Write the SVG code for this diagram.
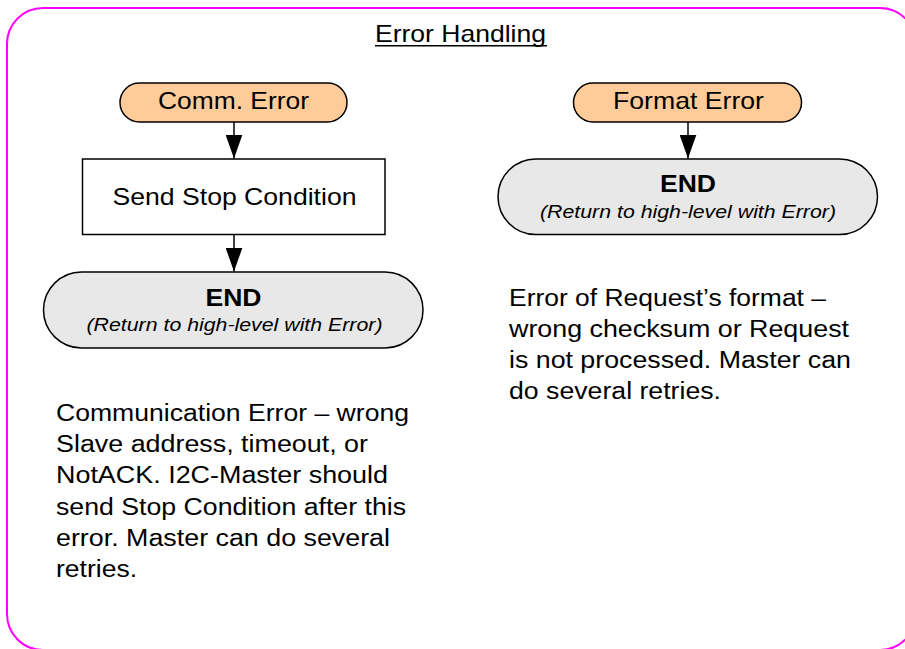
<svg xmlns="http://www.w3.org/2000/svg" width="905" height="649" viewBox="0 0 905 649">
  <defs>
    <marker id="arrow" markerUnits="userSpaceOnUse" markerWidth="24" markerHeight="17" refX="24" refY="8.5" orient="auto" viewBox="0 0 24 17">
      <path d="M0,0 L24,8.5 L0,17 Z" fill="#000"/>
    </marker>
    <style>
      text { font-family: "Liberation Sans", Arial, sans-serif; fill: #000; }
      .node { font-size: 24px; }
      .end { font-size: 24px; font-weight: bold; }
      .ret { font-size: 18.5px; font-style: italic; }
      .para { font-size: 23px; }
      .start { fill: #FFCC99; stroke: #000; stroke-width: 1.5; }
      .term { fill: #E8E8E8; stroke: #000; stroke-width: 1.5; }
      .proc { fill: #FFFFFF; stroke: #000; stroke-width: 1.5; }
      .conn { stroke: #000; stroke-width: 1.5; fill: none; marker-end: url(#arrow); }
    </style>
  </defs>
  <rect width="905" height="649" fill="#FFFFFF"/>
  <rect id="frame" x="7" y="8" width="909" height="642" rx="36" ry="36" fill="none" stroke="#FF00FF" stroke-width="2"/>

  <g id="title">
    <text x="375" y="41.7" font-size="24" textLength="171" lengthAdjust="spacingAndGlyphs">Error Handling</text>
    <line x1="375" y1="45.8" x2="547" y2="45.8" stroke="#000" stroke-width="1.5"/>
  </g>

  <g id="connectors">
    <line class="conn" x1="234" y1="122" x2="234" y2="158.5"/>
    <line class="conn" x1="234" y1="234" x2="234" y2="271.5"/>
    <line class="conn" x1="688" y1="122" x2="688" y2="158.5"/>
  </g>

  <g id="comm-error">
    <rect class="start" x="120" y="83" width="227" height="39" rx="19.5" ry="19.5"/>
    <text class="node" x="158" y="109.3" textLength="151" lengthAdjust="spacingAndGlyphs">Comm. Error</text>
  </g>

  <g id="send-stop">
    <rect class="proc" x="82.5" y="159" width="302.5" height="75.5"/>
    <text class="node" x="112.5" y="205" font-size="24.5" textLength="244" lengthAdjust="spacingAndGlyphs">Send Stop Condition</text>
  </g>

  <g id="end-left">
    <rect class="term" x="43.5" y="272" width="379.5" height="76" rx="38" ry="38"/>
    <text class="end" x="205.5" y="306" textLength="56" lengthAdjust="spacingAndGlyphs">END</text>
    <text class="ret" x="86.5" y="331" textLength="296" lengthAdjust="spacingAndGlyphs">(Return to high-level with Error)</text>
  </g>

  <g id="format-error">
    <rect class="start" x="573.5" y="83" width="228" height="39" rx="19.5" ry="19.5"/>
    <text class="node" x="613" y="109.3" textLength="151" lengthAdjust="spacingAndGlyphs">Format Error</text>
  </g>

  <g id="end-right">
    <rect class="term" x="498" y="159" width="379.5" height="75.5" rx="37.75" ry="37.75"/>
    <text class="end" x="660" y="192" textLength="56" lengthAdjust="spacingAndGlyphs">END</text>
    <text class="ret" x="540" y="218" textLength="296" lengthAdjust="spacingAndGlyphs">(Return to high-level with Error)</text>
  </g>

  <g id="note-comm">
    <text class="para" x="56" y="421" textLength="353" lengthAdjust="spacingAndGlyphs">Communication Error – wrong</text>
    <text class="para" x="56" y="452.2" textLength="312" lengthAdjust="spacingAndGlyphs">Slave address, timeout, or</text>
    <text class="para" x="56" y="483.4" textLength="332" lengthAdjust="spacingAndGlyphs">NotACK. I2C-Master should</text>
    <text class="para" x="56" y="514.6" textLength="350" lengthAdjust="spacingAndGlyphs">send Stop Condition after this</text>
    <text class="para" x="56" y="545.8" textLength="334" lengthAdjust="spacingAndGlyphs">error. Master can do several</text>
    <text class="para" x="56" y="577" textLength="81" lengthAdjust="spacingAndGlyphs">retries.</text>
  </g>

  <g id="note-format">
    <text class="para" x="509" y="306" textLength="317" lengthAdjust="spacingAndGlyphs">Error of Request’s format –</text>
    <text class="para" x="509" y="337" textLength="340" lengthAdjust="spacingAndGlyphs">wrong checksum or Request</text>
    <text class="para" x="509" y="368" textLength="342" lengthAdjust="spacingAndGlyphs">is not processed. Master can</text>
    <text class="para" x="509" y="399" textLength="212" lengthAdjust="spacingAndGlyphs">do several retries.</text>
  </g>
</svg>
